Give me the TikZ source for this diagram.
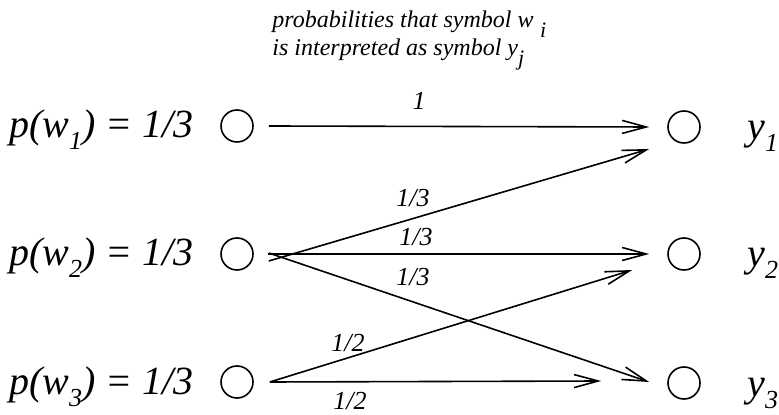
\documentclass[tikz,border=0pt]{standalone}
\usepackage{fontspec}
\setmainfont{Liberation Serif}
\usetikzlibrary{arrows.meta,positioning}

% lowered subscript as drawn in the figure: [drop]{size}{text}
\newcommand{\lowsub}[3][6pt]{\raisebox{-#1}{\fontsize{#2}{#2}\selectfont #3}}

\begin{document}
\begin{tikzpicture}[
  x=0.5pt, y=-0.5pt,
  every node/.style={font=\itshape},
  sym/.style={draw, circle, line width=0.8pt, minimum size=16pt, inner sep=0pt},
  arr/.style={-{Straight Barb[length=12pt,width=6.5pt]}, line width=0.8pt},
  prob/.style={font=\fontsize{13}{13}\selectfont\itshape, inner sep=0pt},
  eqn/.style={font=\fontsize{20}{20}\selectfont\itshape, inner sep=0pt},
]
\useasboundingbox (0,0) rectangle (779,415);

%% ---- input symbols ----
\node[sym] (w1) at (237,126) {};
\node[sym] (w2) at (237,254) {};
\node[sym] (w3) at (237,382) {};

%% ---- output symbols ----
\node[sym] (y1) at (684,127) {};
\node[sym] (y2) at (684,254) {};
\node[sym] (y3) at (684,383) {};

%% ---- symbol labels ----
\node[eqn, anchor=base east] (pw1) at (194,138) {p(w\lowsub{13}{1}) = 1/3};
\node[eqn, anchor=base east] (pw2) at (194,266) {p(w\lowsub{13}{2}) = 1/3};
\node[eqn, anchor=base east] (pw3) at (194,394) {p(w\lowsub{13}{3}) = 1/3};
\node[eqn, anchor=base west] (ly1) at (747,140) {y\lowsub{13}{1}};
\node[eqn, anchor=base west] (ly2) at (747,267) {y\lowsub{13}{2}};
\node[eqn, anchor=base west] (ly3) at (747,396) {y\lowsub{13}{3}};

%% ---- title ----
\node[font=\fontsize{12}{12.5}\selectfont\itshape, align=left,
      anchor=base west, inner sep=0pt] (title) at (272,56)
  {probabilities that symbol w\;\lowsub[5pt]{11}{i}\\
   is interpreted as symbol y\lowsub[5pt]{11}{j}};

%% ---- transitions ----
\draw[arr] ([xshift=7.5pt]w1.east) -- ([xshift=-9pt]y1.west);
\draw[arr] ([shift={(15,7)}]w2.east) -- ([shift={(-18,22)}]y1.west);
\draw[arr] ([xshift=7pt]w2.east) -- ([xshift=-9pt]y2.west);
\draw[arr] ([shift={(15,-1)}]w2.east) -- ([shift={(-18,-1)}]y3.west);
\draw[arr] ([xshift=8pt]w3.east) -- ([shift={(-35,16)}]y2.west);
\draw[arr] ([xshift=8pt]w3.east) -- ([shift={(-66,-2)}]y3.west);

%% ---- probabilities ----
\node[prob] (p11) at (419,101) {1};
\node[prob] (p21) at (413,198) {1/3};
\node[prob] (p22) at (416,237) {1/3};
\node[prob] (p23) at (413,277) {1/3};
\node[prob] (p32) at (348,343) {1/2};
\node[prob] (p33) at (350,401) {1/2};
\end{tikzpicture}
\end{document}
